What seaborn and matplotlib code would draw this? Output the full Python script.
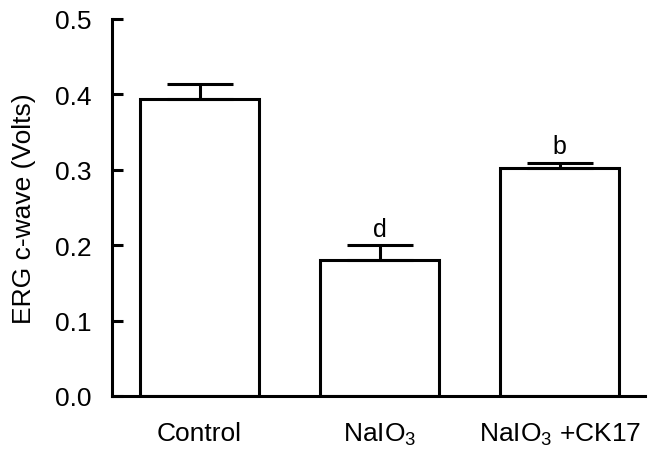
import matplotlib
matplotlib.use("Agg")
import matplotlib.pyplot as plt
import pandas as pd
import seaborn as sns

# data
groups = ["Control", "NaIO$_3$", "NaIO$_3$ +CK17"]
means = [0.394, 0.180, 0.302]
errors = [0.020, 0.020, 0.007]
letters = ["", "d", "b"]

sns.set_style("white")
plt.rcParams["font.family"] = ["Liberation Sans", "DejaVu Sans"]
plt.rcParams["mathtext.default"] = "regular"
plt.rcParams["text.color"] = "black"
plt.rcParams["axes.labelcolor"] = "black"
plt.rcParams["xtick.color"] = "black"
plt.rcParams["ytick.color"] = "black"

df = pd.DataFrame({"group": groups, "value": means})

fig = plt.figure(figsize=(6.55, 4.56), dpi=100)
ax = fig.add_axes([0.171, 0.1294, 0.814, 0.8268])

sns.barplot(data=df, x="group", y="value", color="white", edgecolor="black",
            linewidth=2.2, width=0.66, errorbar=None, ax=ax, zorder=2)

ax.errorbar(range(len(groups)), means, yerr=[[0] * len(errors), errors],
            fmt="none", ecolor="black", elinewidth=2.2, capsize=24,
            capthick=2.2, zorder=3)

for i, (m, e, t) in enumerate(zip(means, errors, letters)):
    if t:
        ax.text(i, m + e + 0.006, t, ha="center", va="bottom", fontsize=18)

ax.set_ylim(0, 0.5)
ax.set_xlim(-0.486, 2.475)
ax.set_yticks([0.0, 0.1, 0.2, 0.3, 0.4, 0.5])
ax.set_yticklabels(["0.0", "0.1", "0.2", "0.3", "0.4", "0.5"])
ax.set_xlabel("")
ax.set_ylabel("ERG c-wave (Volts)", fontsize=19, labelpad=13)

for s in ["top", "right"]:
    ax.spines[s].set_visible(False)
for s in ["left", "bottom"]:
    ax.spines[s].set_linewidth(2.2)
    ax.spines[s].set_color("black")

ax.tick_params(axis="y", direction="in", length=8, width=2.2, pad=15,
               labelsize=19, left=True)
ax.tick_params(axis="x", length=0, pad=18, labelsize=19)

fig.savefig("out.png", dpi=100)
